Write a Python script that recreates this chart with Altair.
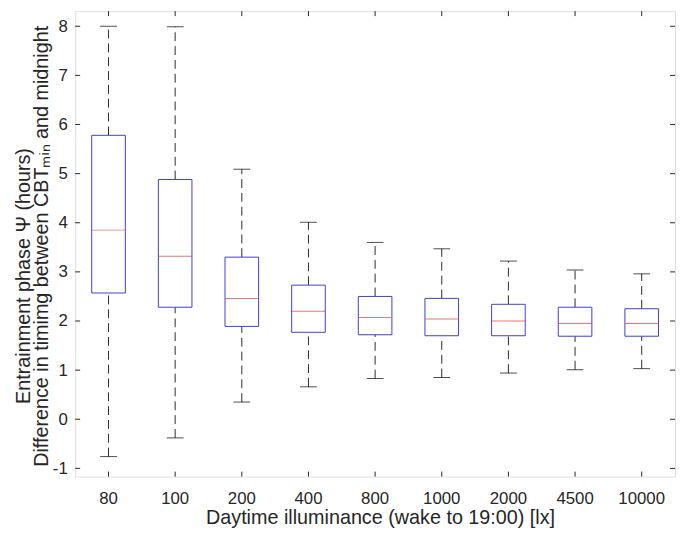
import altair as alt
import pandas as pd

cats = ["80", "100", "200", "400", "800", "1000", "2000", "4500", "10000"]
lower = [-0.76, -0.38, 0.35, 0.66, 0.83, 0.85, 0.94, 1.01, 1.03]
q1 = [2.57, 2.28, 1.89, 1.77, 1.72, 1.70, 1.70, 1.69, 1.69]
median = [3.85, 3.32, 2.46, 2.20, 2.07, 2.04, 2.00, 1.95, 1.95]
q3 = [5.78, 4.88, 3.30, 2.73, 2.50, 2.46, 2.34, 2.28, 2.25]
upper = [8.0, 7.99, 5.09, 4.01, 3.60, 3.47, 3.22, 3.04, 2.96]
yticks = [-1, 0, 1, 2, 3, 4, 5, 6, 7, 8]

XTITLE = "Daytime illuminance (wake to 19:00) [lx]"
YTITLE1 = "Entrainment phase \u03a8 (hours)"
YTITLE2 = "Difference in timimg between CBT\u2098\u1d62\u2099 and midnight"

df = pd.DataFrame({"cat": cats, "lower": lower, "q1": q1, "median": median,
                   "q3": q3, "upper": upper})
tdf = pd.DataFrame({"v": yticks})

W, H = 607, 471
FONT = "Liberation Sans"
AX = "#262626"
BLUE = "#3d3dd6"
RED = "#e8393b"
DASH = "#2a2a2a"

xs = alt.Scale(domain=cats, paddingInner=0, paddingOuter=0)
ys = alt.Scale(domain=[-1.167, 8.308], nice=False, zero=False)

xenc = alt.X("cat:N", scale=xs, sort=cats,
             axis=alt.Axis(title=XTITLE,
                           labelAngle=0, ticks=False, domain=False,
                           labelPadding=14, labelFont=FONT, labelFontSize=17,
                           labelColor=AX, titleFont=FONT, titleFontSize=20,
                           titleFontWeight="normal", titleColor=AX,
                           titleX=W / 2 + 5, titleY=48, titleBaseline="alphabetic"))

def yenc(field):
    return alt.Y(field, type="quantitative", scale=ys,
                 axis=alt.Axis(values=yticks, ticks=False, domain=False, grid=False,
                               labelExpr="datum.value",
                               labelPadding=8, labelFont=FONT, labelFontSize=17,
                               labelColor=AX, title=None))

base = alt.Chart(df)

wh_up = base.mark_rule(color=DASH, strokeWidth=1, strokeDash=[9, 5]).encode(
    x=xenc, y=yenc("q3"), y2="upper")
wh_lo = base.mark_rule(color=DASH, strokeWidth=1, strokeDash=[9, 5]).encode(
    x=xenc, y=yenc("lower"), y2="q1")
box = base.mark_bar(fill="white", stroke=BLUE, strokeWidth=1, size=34).encode(
    x=xenc, y=yenc("q1"), y2="q3")
med = base.mark_tick(color=RED, thickness=1, size=34).encode(
    x=xenc, y=yenc("median"))
cap_up = base.mark_tick(color="black", thickness=1, size=17).encode(
    x=xenc, y=yenc("upper"))
cap_lo = base.mark_tick(color="black", thickness=1, size=17).encode(
    x=xenc, y=yenc("lower"))

tk = alt.Chart(tdf)
ltick = tk.mark_rule(color=AX, strokeWidth=1).encode(
    y=yenc("v"), x=alt.value(0), x2=alt.value(5))
rtick = tk.mark_rule(color=AX, strokeWidth=1).encode(
    y=yenc("v"), x=alt.value(W - 5), x2=alt.value(W))
ttick = base.mark_rule(color=AX, strokeWidth=1).encode(
    x=xenc, y=alt.value(0), y2=alt.value(5))
btick = base.mark_rule(color=AX, strokeWidth=1).encode(
    x=xenc, y=alt.value(H - 5), y2=alt.value(H))

yt1 = alt.Chart(pd.DataFrame({"t": [YTITLE1]})).mark_text(
    angle=270, align="center", baseline="middle", font=FONT, fontSize=20,
    color=AX).encode(text="t:N", x=alt.value(-52), y=alt.value(268))
yt2 = alt.Chart(pd.DataFrame({"t": [YTITLE2]})).mark_text(
    angle=270, align="center", baseline="middle", font=FONT, fontSize=20,
    color=AX).encode(text="t:N", x=alt.value(-34), y=alt.value(238))

chart = alt.layer(wh_up, wh_lo, box, med, cap_up, cap_lo,
                  ltick, rtick, ttick, btick, yt1, yt2).properties(
    width=W, height=H,
    autosize=alt.AutoSizeParams(type="none"),
    padding={"left": 68, "top": 0, "right": 2, "bottom": 60},
).configure_view(stroke=AX, strokeWidth=1).configure(background="white")

chart.save("out.html", embed_options={"renderer": "svg", "actions": False})
